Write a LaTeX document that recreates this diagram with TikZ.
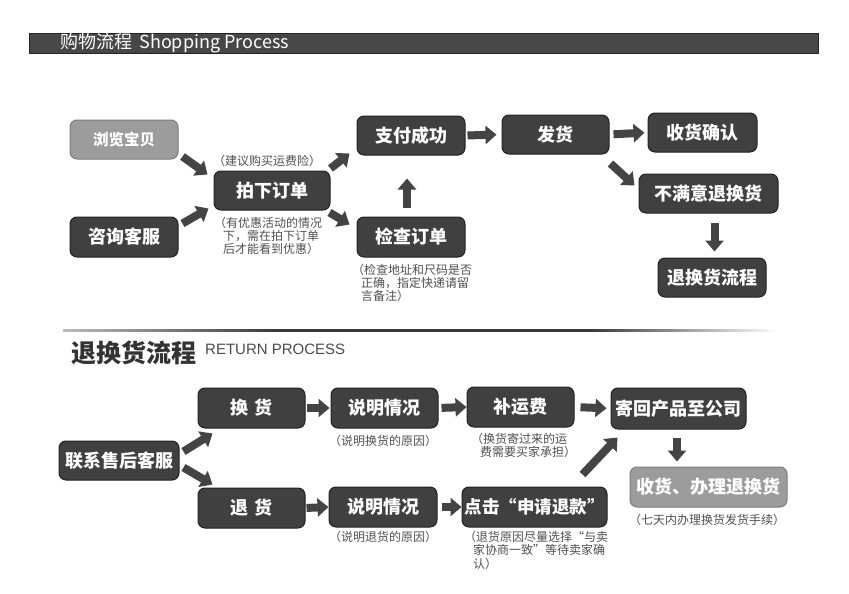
\documentclass[tikz,border=0pt]{standalone}
\usepackage{fontspec}
\setmainfont{Noto Sans CJK SC}
\newfontfamily\latinsans{Liberation Sans}
\usetikzlibrary{arrows.meta,calc}
\definecolor{nodefill}{HTML}{404040}
\definecolor{boxline}{HTML}{222222}
\definecolor{lightfill}{HTML}{9C9C9C}
\definecolor{arrowcol}{HTML}{444444}
\definecolor{notecol}{HTML}{505050}
\definecolor{headfill}{HTML}{474747}
\definecolor{sepdark}{HTML}{3A3A3A}
\definecolor{seplight}{HTML}{BBBBBB}
\definecolor{titlecol}{HTML}{333333}
\pgfdeclarehorizontalshading{sepshade}{100bp}{color(0bp)=(seplight); color(25bp)=(seplight); color(40bp)=(sepdark); color(62bp)=(sepdark); color(75bp)=(white); color(100bp)=(white)}
\begin{document}
\begin{tikzpicture}[x=1pt,y=-1pt,
  box/.style={draw=boxline, fill=nodefill, rounded corners=7pt, line width=1pt,
    text=white, font=\bfseries\fontsize{18}{20}\selectfont, inner sep=0pt,
    minimum height=39pt},
  lbox/.style={box, fill=lightfill, draw=lightfill!80!black},
  note/.style={text=notecol, font=\fontsize{12}{13}\selectfont, inner sep=0pt, align=left},
  blk/.style={draw=arrowcol, line width=8pt, -{Triangle[length=11pt,width=18pt]}}]
\useasboundingbox (0,0) rectangle (849,594);
\fill[white] (0,0) rectangle (849,594);

% header bar
\node[draw=black!85, fill=headfill, line width=1pt, minimum width=789pt, minimum height=20pt, inner sep=0pt, anchor=north west] (header) at (29,33) {};
\node[text=white, font=\fontsize{18}{20}\selectfont, anchor=west, inner sep=0pt] (headtext) at (60,43.5) {购物流程\hspace{0.4em}Shopping Process};

% ---------- top flow ----------
\node[lbox, minimum width=108pt, font=\bfseries\fontsize{15.5}{18}\selectfont] (browse) at (124,139.5) {浏览宝贝};
\node[box, minimum width=108pt, minimum height=40pt] (consult) at (124,237) {咨询客服};
\node[box, minimum width=116pt] (order) at (272,190.5) {拍下订单};
\node[box, minimum width=108pt] (pay) at (411,135.5) {支付成功};
\node[box, minimum width=108pt, minimum height=40pt] (check) at (411,237) {检查订单};
\node[box, minimum width=107pt] (ship) at (555.5,134.5) {发货};
\node[box, minimum width=109pt] (confirm) at (702.5,132.5) {收货确认};
\node[box, minimum width=139pt] (unhappy) at (708.5,193.5) {不满意退换货};
\node[box, minimum width=108pt] (retflow) at (712,277.5) {退换货流程};

\node[note, anchor=center] (note1) at (267,161) {（建议购买运费险）};
\node[note, anchor=north west] (note2) at (214,217) {（有优惠活动的情况\\\hspace{0.75em}下，需在拍下订单\\\hspace{0.75em}后才能看到优惠）};
\node[note, anchor=north west] (note3) at (352,264) {（检查地址和尺码是否\\\hspace{0.75em}正确，指定快递请留\\\hspace{0.75em}言备注）};

\draw[blk] ([shift={(4,-3)}]browse.south east) -- ([shift={(-6,4)}]order.north west);
\draw[blk] ([shift={(4,7)}]consult.north east) -- ([shift={(-5,-2)}]order.south west);
\draw[blk] ([shift={(0,-2)}]order.north east) -- ([shift={(-7,-2)}]pay.south west);
\draw[blk] ([shift={(-1,2)}]order.south east) -- ([shift={(-7,8)}]check.north west);
\draw[blk, shorten <=9pt, shorten >=23pt] ([xshift=-4pt]check.north) -- ([xshift=-4pt]check.north |- pay.south);
\draw[blk, shorten <=2pt, shorten >=5pt] (pay.east) -- (ship.west);
\draw[blk, shorten <=4pt, shorten >=3pt] (ship.east) -- (confirm.west);
\draw[blk] ([shift={(1,9)}]ship.south east) -- ([shift={(-4,12)}]unhappy.north west);
\draw[blk, shorten <=9pt, shorten >=6pt] ([xshift=6pt]unhappy.south) -- ([xshift=6pt]unhappy.south |- retflow.north);

% ---------- separator & title ----------
\shade[shading=sepshade] (63,329) rectangle (777,331);
\node[text=titlecol, font=\bfseries\fontsize{25}{28}\selectfont, anchor=west, inner sep=0pt] (title) at (71,353) {退换货流程};
\node[text=black!70, font=\latinsans\fontsize{15}{17}\selectfont, anchor=base west, inner sep=0pt] (titleen) at (205,354) {RETURN PROCESS};

% ---------- bottom flow ----------
\node[box, minimum width=120pt] (service) at (119,460.5) {联系售后客服};
\node[box, minimum width=107pt, minimum height=40pt] (exch) at (251.5,408) {换\hspace{0.35em}货};
\node[box, minimum width=107pt, minimum height=40pt] (refund) at (251.5,508) {退\hspace{0.35em}货};
\node[box, minimum width=107pt, minimum height=40pt] (explainA) at (384.5,408) {说明情况};
\node[box, minimum width=108pt, minimum height=40pt] (explainB) at (383,507) {说明情况};
\node[box, minimum width=107pt, minimum height=40pt] (fee) at (520.5,407) {补运费};
\node[box, minimum width=135pt, minimum height=41pt] (sendback) at (678.5,408.5) {寄回产品至公司};
\node[box, minimum width=145pt, minimum height=40pt, font=\bfseries\fontsize{17.5}{20}\selectfont] (apply) at (534.5,507) {点击“申请退款”};
\node[lbox, minimum width=157pt, minimum height=40pt] (handle) at (708.5,487) {收货、办理退换货};

\node[note, anchor=center] (note4) at (383,441) {（说明换货的原因）};
\node[note, anchor=center] (note5) at (383,537) {（说明退货的原因）};
\node[note, anchor=north west] (note6) at (471,433) {（换货寄过来的运\\\hspace{0.75em}费需要买家承担）};
\node[note, anchor=center] (note7) at (707,520) {（七天内办理换货发货手续）};
\node[note, anchor=north west, font=\fontsize{12}{13.5}\selectfont] (note8) at (464,531) {（退货原因尽量选择“与卖\\\hspace{0.75em}家协商一致”等待卖家确\\\hspace{0.75em}认）};

\draw[blk] ([shift={(4,11)}]service.north east) -- ([shift={(15,5)}]exch.south west);
\draw[blk] ([shift={(4,-13)}]service.south east) -- ([shift={(15,-3)}]refund.north west);
\draw[blk, shorten <=1pt, shorten >=1pt] (exch.east) -- (explainA.west);
\draw[blk, shorten <=3pt] (explainA.east) -- (fee.west);
\draw[blk, shorten <=6pt, shorten >=4pt] (fee.east) -- (sendback.west);
\draw[blk, shorten <=1pt] (refund.east) -- (explainB.west);
\draw[blk, shorten <=4pt] (explainB.east) -- (apply.west);
\draw[blk] ([shift={(-25,-12)}]apply.north east) -- ([shift={(7,8)}]sendback.south west);
\draw[blk, shorten <=8pt, shorten >=5pt] ([xshift=-1.5pt]sendback.south) -- ([xshift=-1.5pt]sendback.south |- handle.north);
\end{tikzpicture}
\end{document}
